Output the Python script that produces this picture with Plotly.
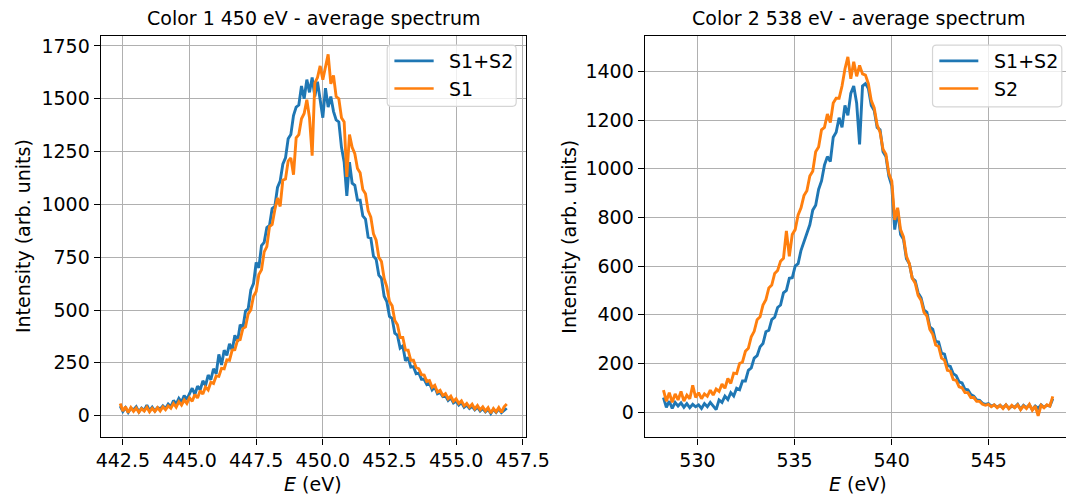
import numpy as np
import plotly.graph_objects as go

# ---------------- data ----------------
# Left panel: Color 1, 450 eV, energy grid 442.4 .. 456.9 eV
c1_e_start, c1_e_end = 442.4, 456.9
c1_sum = [45, 20, 38, 15, 35, 28, 42, 18, 36, 25, 50, 24, 40, 22, 38, 32, 46, 34, 55, 42,
          72, 55, 82, 64, 95, 76, 104, 130, 100, 140, 122, 165, 142, 192, 170, 222, 198, 290, 240, 310,
          285, 340, 310, 380, 350, 430, 415, 495, 505, 595, 625, 725, 700, 805, 820, 890, 900, 980, 990, 1080,
          1110, 1190, 1220, 1310, 1330, 1420, 1460, 1470, 1560, 1500, 1590, 1530, 1600, 1510, 1580, 1500, 1410, 1550, 1460, 1510,
          1440, 1400, 1390, 1270, 1200, 1040, 1200, 1100, 1090, 1020, 1020, 945, 930, 845, 840, 755, 740, 665, 650, 565,
          540, 470, 460, 390, 380, 320, 330, 260, 275, 230, 232, 198, 202, 172, 172, 148, 155, 122, 136, 104,
          110, 90, 94, 72, 84, 60, 68, 50, 62, 40, 50, 34, 44, 28, 40, 22, 34, 18, 30, 10,
          30, 15, 32, 14, 26, 35]
c1_s1 = [58, 22, 42, 14, 38, 20, 36, 16, 33, 22, 40, 18, 35, 20, 38, 22, 42, 28, 46, 35,
         58, 40, 66, 50, 74, 58, 85, 68, 100, 84, 118, 102, 136, 122, 158, 152, 188, 186, 224, 222,
         264, 262, 310, 312, 356, 360, 412, 420, 482, 500, 565, 588, 668, 690, 775, 800, 895, 905, 975, 1030,
         990, 1115, 1120, 1205, 1220, 1140, 1315, 1330, 1405, 1430, 1495, 1410, 1230, 1575, 1600, 1655, 1590, 1660, 1710, 1570,
         1610, 1510, 1500, 1410, 1390, 1130, 1330, 1270, 1240, 1170, 1150, 1070, 1050, 970, 940, 860, 830, 750, 730, 650,
         610, 540, 520, 450, 430, 370, 370, 310, 310, 262, 262, 228, 222, 194, 192, 162, 166, 134, 144, 112,
         120, 95, 104, 80, 92, 68, 80, 58, 70, 46, 58, 40, 54, 32, 48, 28, 42, 22, 38, 12,
         34, 18, 38, 16, 42, 55]

# Right panel: Color 2, 538 eV, energy grid 528.25 .. 548.3 eV
c2_e_start, c2_e_end = 528.25, 548.3
c2_sum = [60, 20, 45, 15, 40, 25, 38, 20, 35, 18, 32, 22, 30, 15, 35, 22, 40, 25, 10, 50,
          40, 66, 52, 80, 66, 98, 92, 128, 128, 172, 182, 222, 232, 268, 282, 330, 336, 380, 390, 430,
          440, 490, 500, 550, 552, 600, 610, 665, 700, 740, 770, 830, 850, 915, 950, 1015, 1050, 1030, 1130, 1150,
          1210, 1170, 1260, 1220, 1310, 1340, 1270, 1100, 1340, 1350, 1330, 1260, 1240, 1170, 1160, 1070, 1050, 970, 930, 750,
          830, 730, 710, 630, 610, 550, 540, 490, 470, 420, 410, 350, 340, 290, 288, 242, 238, 192, 188, 158,
          150, 124, 120, 94, 92, 72, 66, 50, 48, 36, 32, 35, 25, 30, 20, 28, 18, 30, 15, 25,
          20, 32, 12, 28, 18, 30, 10, 25, 15, 30, 20, 28, 25, 55]
c2_s2 = [90, 45, 80, 40, 75, 50, 85, 45, 70, 55, 110, 60, 80, 55, 75, 65, 90, 70, 95, 85,
         115, 98, 138, 118, 160, 158, 200, 206, 250, 262, 310, 332, 380, 392, 440, 462, 510, 522, 570, 582,
         620, 632, 745, 640, 730, 750, 810, 840, 890, 910, 970, 990, 1070, 1090, 1160, 1170, 1225, 1190, 1270, 1290,
         1290, 1340, 1410, 1460, 1370, 1440, 1380, 1425, 1390, 1385, 1350, 1280, 1250, 1180, 1150, 1080, 1060, 980, 950, 790,
         840, 750, 720, 640, 610, 550, 530, 480, 460, 410, 395, 340, 320, 276, 270, 222, 214, 172, 168, 134,
         130, 104, 100, 80, 80, 60, 60, 44, 44, 32, 28, 32, 22, 30, 18, 28, 15, 30, 14, 28,
         18, 30, 10, 26, 15, 32, 8, 25, -15, 28, 18, 30, 25, 65]

titles = ["Color 1 450 eV - average spectrum", "Color 2 538 eV - average spectrum"]
legend_names = [["S1+S2", "S1"], ["S1+S2", "S2"]]
x_label = "<i>E</i> (eV)"
y_label = "Intensity (arb. units)"

# ---------------- styling ----------------
BLUE, ORANGE = "#1f77b4", "#ff7f0e"
FONT = "DejaVu Sans"
FS = 19
W, H = 1090, 500
LW = 2.9


def px_x(p):
    return p / W


def px_y(p):
    return 1 - p / H


e1 = np.linspace(c1_e_start, c1_e_end, len(c1_sum))
e1b = np.linspace(c1_e_start, c1_e_end, len(c1_s1))
e2 = np.linspace(c2_e_start, c2_e_end, len(c2_sum))
e2b = np.linspace(c2_e_start, c2_e_end, len(c2_s2))

fig = go.Figure()
fig.add_trace(go.Scatter(x=e1, y=c1_sum, mode="lines", name=legend_names[0][0],
                         line=dict(color=BLUE, width=LW), xaxis="x", yaxis="y"))
fig.add_trace(go.Scatter(x=e1b, y=c1_s1, mode="lines", name=legend_names[0][1],
                         line=dict(color=ORANGE, width=LW), xaxis="x", yaxis="y"))
fig.add_trace(go.Scatter(x=e2, y=c2_sum, mode="lines", name=legend_names[1][0],
                         line=dict(color=BLUE, width=LW), xaxis="x2", yaxis="y2"))
fig.add_trace(go.Scatter(x=e2b, y=c2_s2, mode="lines", name=legend_names[1][1],
                         line=dict(color=ORANGE, width=LW), xaxis="x2", yaxis="y2"))

ax_common = dict(showgrid=True, gridcolor="#b0b0b0", gridwidth=1.3, zeroline=False,
                 showline=True, linecolor="black", linewidth=1.4,
                 ticks="outside", ticklen=6, tickwidth=1.4, tickcolor="black",
                 tickfont=dict(family=FONT, size=FS, color="black"))

y_dom = [px_y(437.3), px_y(35)]
fig.update_layout(
    width=W, height=H, autosize=False, margin=dict(l=0, r=0, t=0, b=0),
    paper_bgcolor="white", plot_bgcolor="white",
    font=dict(family=FONT, size=FS, color="black"),
    showlegend=False,
    xaxis=dict(domain=[px_x(99.3), px_x(536)], range=[441.67, 457.63], anchor="y",
               tick0=442.5, dtick=2.5, tickformat=".1f", mirror=True, **ax_common),
    yaxis=dict(domain=y_dom, range=[-103, 1797], anchor="x", tick0=0, dtick=250,
               mirror=True, **ax_common),
    xaxis2=dict(domain=[px_x(657.7), 1.0], range=[527.29, 548.98], anchor="y2",
                tick0=530, dtick=5, mirror=True, **ax_common),
    yaxis2=dict(domain=y_dom, range=[-104, 1546], anchor="x2", tick0=0, dtick=200,
                mirror=False, **ax_common),
)

annots = []
shapes = []
for cx, t in [(317.6, titles[0]), (876.6, titles[1])]:
    annots.append(dict(text=t, x=px_x(cx), y=px_y(17), xref="paper", yref="paper",
                       xanchor="center", yanchor="middle", showarrow=False,
                       font=dict(family=FONT, size=FS, color="black")))
for cx in [317.6, 876.6]:
    annots.append(dict(text=x_label, x=px_x(cx), y=px_y(484), xref="paper", yref="paper",
                       xanchor="center", yanchor="middle", showarrow=False,
                       font=dict(family=FONT, size=FS, color="black")))
for cx in [19, 579]:
    annots.append(dict(text=y_label, x=px_x(cx), y=px_y(236), xref="paper", yref="paper",
                       xanchor="center", yanchor="middle", showarrow=False, textangle=-90,
                       font=dict(family=FONT, size=FS, color="black")))


def rounded_rect(x0, y0, x1, y1, r=4):
    # pixel coordinates -> paper path with rounded corners
    X = lambda p: f"{px_x(p):.5f}"
    Y = lambda p: f"{px_y(p):.5f}"
    return (f"M {X(x0 + r)},{Y(y0)} L {X(x1 - r)},{Y(y0)} Q {X(x1)},{Y(y0)} {X(x1)},{Y(y0 + r)} "
            f"L {X(x1)},{Y(y1 - r)} Q {X(x1)},{Y(y1)} {X(x1 - r)},{Y(y1)} "
            f"L {X(x0 + r)},{Y(y1)} Q {X(x0)},{Y(y1)} {X(x0)},{Y(y1 - r)} "
            f"L {X(x0)},{Y(y0 + r)} Q {X(x0)},{Y(y0)} {X(x0 + r)},{Y(y0)} Z")


legends = [
    dict(box=(393.3, 44.3, 525.7, 105.5), line=(400.7, 441.0), text_x=455.0, names=legend_names[0]),
    dict(box=(953.0, 44.3, 1085.7, 106.0), line=(960.0, 1000.0), text_x=1014.0, names=legend_names[1]),
]
row_y = [60.0, 87.7]
for lg in legends:
    bx0, by0, bx1, by1 = lg["box"]
    shapes.append(dict(type="path", path=rounded_rect(bx0, by0, bx1, by1), xref="paper", yref="paper",
                       fillcolor="rgba(255,255,255,0.8)", line=dict(color="#d5d5d5", width=1.2),
                       layer="above"))
    for name, col, ry in zip(lg["names"], [BLUE, ORANGE], row_y):
        shapes.append(dict(type="line", xref="paper", yref="paper",
                           x0=px_x(lg["line"][0]), x1=px_x(lg["line"][1]), y0=px_y(ry), y1=px_y(ry),
                           line=dict(color=col, width=2.7), layer="above"))
        annots.append(dict(text=name, x=px_x(lg["text_x"]), y=px_y(ry), xref="paper", yref="paper",
                           xanchor="left", yanchor="middle", showarrow=False,
                           font=dict(family=FONT, size=FS, color="black")))

fig.update_layout(annotations=annots, shapes=shapes)

fig.write_html(
    "out.html",
    config={"responsive": False, "displayModeBar": False},
    post_script="document.body.style.margin='0px';"
                "document.body.style.overflow='hidden';"
                "document.documentElement.style.overflow='hidden';",
)
